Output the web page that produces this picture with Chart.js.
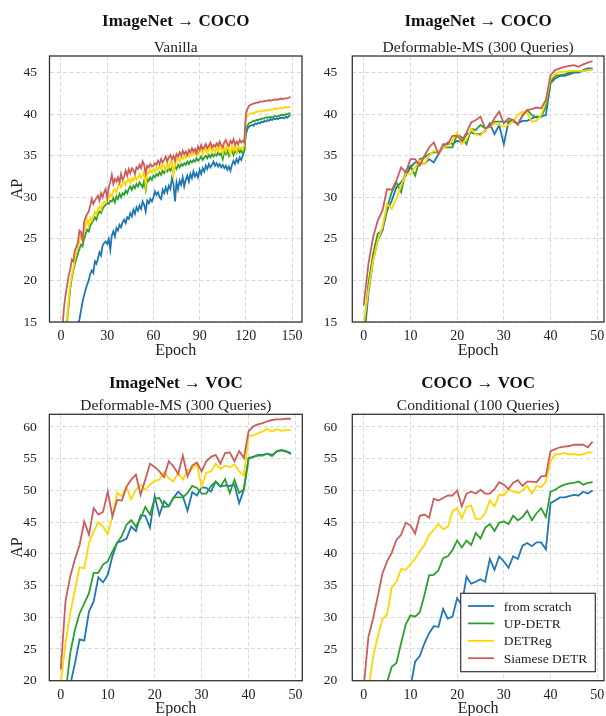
<!DOCTYPE html>
<html>
<head>
<meta charset="utf-8">
<script src="https://cdn.jsdelivr.net/npm/chart.js@4.4.0/dist/chart.umd.min.js"></script>
<style>
  body { margin: 0; background: #fff; }
  .panel { position: absolute; width: 303px; height: 358px; }
</style>
</head>
<body>
<div class="panel" style="left:0;top:0"><canvas id="c1" width="303" height="358"></canvas></div>
<div class="panel" style="left:303px;top:0"><canvas id="c2" width="303" height="358"></canvas></div>
<div class="panel" style="left:0;top:358px"><canvas id="c3" width="303" height="358"></canvas></div>
<div class="panel" style="left:303px;top:358px"><canvas id="c4" width="303" height="358"></canvas></div>
<script>
// ---- data ----
const seriesNames = ['from scratch', 'UP-DETR', 'DETReg', 'Siamese DETR'];
const xTicksLong = [0, 30, 60, 90, 120, 150];
const xTicksShort = [0, 10, 20, 30, 40, 50];
const yTicksCoco = [15, 20, 25, 30, 35, 40, 45];
const yTicksVoc = [20, 25, 30, 35, 40, 45, 50, 55, 60];

// ImageNet -> COCO, Vanilla (150 epochs)
const vanScratch = [5.0,6.0,7.0,8.0,9.0,10.0,11.0,12.0,12.8,13.5,
  14.2,14.8,15.3,16.4,17.4,18.2,18.9,19.5,20.0,20.8,
  21.2,20.9,22.3,22.0,22.6,23.4,23.0,24.2,24.5,24.7,
  24.4,25.0,23.7,25.4,25.9,25.3,26.3,26.0,26.7,26.4,
  27.0,27.3,26.9,27.6,27.4,28.1,27.7,28.5,28.0,28.8,
  28.4,29.0,28.6,29.5,29.1,28.3,29.6,29.3,29.8,29.5,
  30.0,30.7,30.3,30.6,30.0,29.8,30.9,30.5,31.2,30.6,
  31.4,31.0,32.3,31.6,29.5,31.8,31.0,32.0,31.5,32.4,
  31.3,32.1,32.6,31.9,32.8,32.3,33.1,32.5,32.9,32.4,
  33.3,32.8,33.5,33.1,33.8,33.4,34.0,33.6,33.9,34.3,
  33.8,34.1,33.7,34.0,33.6,33.9,33.5,33.8,33.3,33.7,
  33.2,33.9,34.4,34.0,34.6,34.2,34.8,34.5,35.0,35.6,
  37.6,38.2,38.5,38.6,38.7,38.6,38.9,38.8,39.0,38.9,
  39.1,39.0,39.2,39.1,39.3,39.2,39.4,39.3,39.5,39.4,
  39.5,39.4,39.6,39.5,39.6,39.5,39.7,39.6,39.8,39.9];
const vanUpDetr = [10.0,11.5,12.8,14.0,15.2,17.0,19.0,20.3,21.2,21.9,
  22.6,23.2,23.8,24.3,24.1,25.0,25.6,26.1,25.9,26.6,
  26.9,27.2,27.6,27.3,28.0,28.3,28.1,28.6,28.9,29.1,
  29.3,29.2,29.6,29.5,29.9,29.4,30.1,29.8,30.4,30.0,
  30.5,30.3,30.8,30.5,31.0,31.3,30.9,31.4,31.1,31.6,
  31.3,31.8,31.5,31.2,32.0,30.9,32.2,32.0,32.4,32.1,
  32.6,32.4,32.8,32.6,33.0,32.7,33.2,32.9,33.3,33.1,
  33.5,33.2,33.6,33.0,33.7,33.4,33.9,33.6,34.0,33.8,
  34.1,33.9,34.3,34.0,34.4,34.2,34.5,34.3,34.7,34.4,
  34.6,34.9,34.5,34.8,35.0,34.7,35.1,34.8,35.2,34.9,
  35.2,35.0,35.4,35.1,35.3,34.6,35.5,35.2,35.6,35.0,
  35.4,35.7,35.1,35.6,35.3,35.8,35.4,35.7,35.2,35.8,
  38.0,38.6,38.9,39.0,39.1,39.2,39.2,39.3,39.3,39.4,
  39.4,39.5,39.5,39.6,39.6,39.6,39.7,39.6,39.7,39.8,
  39.7,39.8,39.8,39.9,39.9,39.9,40.0,40.0,40.1,40.1];
const vanDetreg = [10.5,12.0,13.3,14.4,15.6,17.6,19.5,20.6,21.4,22.5,
  23.4,24.1,24.7,25.4,25.0,25.8,26.5,27.3,26.6,27.5,
  27.2,27.7,28.3,27.9,28.6,28.9,28.5,29.2,29.5,29.3,
  29.6,29.9,30.4,30.1,30.8,31.0,30.6,31.3,31.8,31.2,
  31.6,31.9,31.5,32.0,32.2,31.7,32.3,32.0,32.5,32.1,
  32.4,32.8,32.3,32.6,33.2,31.4,33.0,32.9,33.3,33.0,
  33.4,33.1,33.6,33.3,33.8,33.4,34.0,33.7,33.2,34.1,
  33.6,34.2,34.5,32.6,34.0,34.4,34.7,34.3,34.9,34.6,
  35.0,34.7,35.2,34.9,35.3,35.0,35.5,35.2,35.6,35.1,
  35.5,35.8,35.2,35.6,35.9,35.3,35.7,36.1,35.5,35.9,
  35.4,36.0,35.6,36.3,35.8,35.2,36.0,35.5,36.4,35.7,
  35.1,36.2,35.6,36.1,35.4,36.3,35.8,36.0,35.7,36.4,
  39.4,39.8,40.0,40.1,40.1,40.2,40.2,40.3,40.3,40.4,
  40.3,40.4,40.5,40.4,40.5,40.5,40.6,40.5,40.6,40.7,
  40.6,40.7,40.7,40.8,40.7,40.8,40.9,40.8,40.9,40.8];
const vanSiamese = [12.5,14.5,16.8,18.3,19.4,20.6,21.3,22.5,22.3,23.6,
  24.0,24.6,26.0,25.8,24.8,27.0,27.6,28.0,28.3,29.0,
  29.8,29.2,29.6,29.9,30.2,29.6,30.5,30.0,30.6,31.0,
  29.9,31.2,31.8,32.7,31.6,32.2,31.9,32.4,31.8,32.8,
  32.1,32.5,33.2,32.6,33.4,32.9,33.5,33.3,32.8,33.6,
  33.4,33.9,33.5,34.3,33.9,32.9,33.8,33.6,34.0,33.7,
  33.8,34.1,33.9,34.4,34.0,34.6,34.2,34.5,34.9,34.3,
  34.8,35.1,34.6,35.0,34.4,35.2,34.9,35.4,35.0,35.6,
  35.2,35.5,35.1,35.7,35.4,35.9,35.5,35.8,35.3,36.1,
  35.7,36.3,35.8,36.0,36.4,35.9,36.2,36.6,36.0,36.3,
  36.1,36.5,36.2,36.7,36.3,36.0,36.6,36.9,36.4,36.2,
  36.8,36.5,37.0,36.3,36.7,36.4,36.9,36.6,36.8,36.6,
  40.0,40.6,41.0,41.1,41.2,41.3,41.3,41.4,41.4,41.5,
  41.5,41.5,41.6,41.6,41.6,41.7,41.6,41.7,41.7,41.8,
  41.7,41.8,41.8,41.9,41.8,41.9,41.9,41.9,42.0,42.1];

// ImageNet -> COCO, Deformable-MS (50 epochs)
const defScratch = [12.5,18.4,22.4,24.8,26.0,28.4,29.6,31.2,31.8,32.6,
  33.6,34.2,34.2,34.0,34.6,34.2,35.2,36.0,36.6,36.4,
  36.8,36.6,37.6,37.8,37.6,37.6,38.0,38.9,37.6,38.7,
  36.4,39.1,39.1,38.9,39.2,39.2,39.5,39.7,39.7,39.9,
  43.7,44.3,44.6,44.6,44.8,45.0,45.0,45.3,45.5,45.5];
const defUpDetr = [13.5,19.6,23.2,25.6,26.0,28.8,30.6,31.8,30.6,33.2,
  33.8,32.6,34.6,34.8,35.2,35.4,35.4,36.0,36.0,36.0,
  37.6,37.2,36.4,38.2,38.1,38.7,38.3,38.5,39.1,39.1,
  39.1,39.1,39.3,38.8,39.8,40.5,39.9,39.6,39.7,40.9,
  43.9,44.6,44.7,44.8,45.0,45.1,45.2,45.2,45.3,45.4];
const defDetreg = [14.8,18.8,22.4,24.8,26.4,29.2,28.6,29.8,31.4,32.8,
  32.8,33.6,34.4,34.0,35.0,35.6,35.4,36.0,36.2,36.8,
  37.8,36.4,37.0,38.2,37.6,37.4,38.1,38.5,38.9,38.7,
  38.5,38.7,39.2,39.9,40.3,40.1,39.1,39.2,39.9,41.5,
  44.3,44.8,45.1,45.1,45.2,45.2,45.2,45.2,45.3,45.4];
const defSiamese = [17.0,22.0,25.2,27.2,28.4,31.0,30.9,32.0,33.6,33.0,
  34.6,34.6,33.8,35.0,36.0,36.6,35.2,36.4,36.4,37.4,
  37.4,36.8,37.8,39.0,39.3,39.7,38.3,38.5,39.5,40.3,
  38.9,39.5,39.3,38.7,39.9,40.5,40.6,40.8,40.7,41.7,
  44.7,45.3,45.5,45.7,45.8,45.9,45.7,46.0,46.2,46.4];

// ImageNet -> VOC, Deformable-MS (50 epochs)
const vocScratch = [13.0,15.5,19.3,22.7,26.5,26.3,30.9,32.5,36.3,35.5,
  36.7,39.6,41.8,42.0,42.4,44.3,43.6,46.1,46.0,44.1,
  49.1,46.1,48.3,47.5,48.8,49.8,49.1,46.8,49.7,49.2,
  50.5,50.4,49.8,51.4,50.6,50.8,50.7,50.9,48.0,50.1,
  55.1,55.3,55.6,55.6,55.8,55.6,56.1,56.3,56.1,55.9];
const vocUpDetr = [14.5,17.8,24.3,28.0,30.6,32.2,33.8,37.0,37.0,38.3,
  38.8,40.4,41.7,42.8,44.6,45.3,44.3,45.6,47.4,46.2,
  48.7,48.8,47.4,47.5,48.9,48.9,48.9,49.6,50.7,50.4,
  49.5,49.5,50.7,51.4,50.6,51.8,49.6,51.7,49.6,50.2,
  55.0,55.3,55.5,55.5,55.8,55.4,56.2,56.4,56.2,55.7];
const vocDetreg = [19.5,25.9,30.6,34.3,37.9,37.7,41.7,43.5,45.0,44.3,
  43.1,45.9,49.6,49.1,50.5,48.6,50.1,50.9,50.1,50.9,
  51.5,51.7,52.9,51.9,51.4,52.8,51.7,53.2,53.4,54.1,
  50.6,52.8,53.0,54.2,53.4,53.9,53.7,54.1,53.0,52.3,
  58.5,58.7,59.0,59.3,59.7,59.3,59.7,59.4,59.5,59.5];
const vocSiamese = [21.8,32.5,36.4,39.1,41.4,45.1,43.0,47.2,46.2,46.6,
  49.8,45.9,48.5,48.4,50.6,51.7,52.5,49.3,51.7,54.2,
  53.7,53.0,52.1,54.6,53.8,52.6,55.5,52.2,53.9,54.4,
  53.0,54.6,55.3,55.6,54.2,55.9,56.0,54.6,56.2,55.1,
  59.3,60.1,60.4,60.6,60.9,61.1,61.2,61.2,61.3,61.3];

// COCO -> VOC, Conditional (50 epochs)
const condScratch = [8.0,8.8,9.6,10.5,11.4,12.2,13.1,14.0,15.0,16.5,
  18.8,23.0,23.9,25.9,27.5,28.6,28.5,31.3,29.8,30.1,
  33.0,31.9,36.4,35.3,35.6,36.0,35.6,39.2,37.5,39.6,
  38.8,37.8,39.6,39.2,41.3,41.7,41.2,41.8,41.8,40.7,
  48.0,48.4,48.9,48.9,49.1,49.3,49.2,49.8,49.5,50.0];
const condUpDetr = [10.0,12.0,14.0,16.0,18.0,19.8,22.2,22.8,25.9,28.9,
  30.3,30.1,30.8,33.5,36.6,36.7,37.4,39.3,39.6,40.6,
  42.1,41.0,42.1,41.4,43.3,42.4,44.1,44.7,43.6,44.9,
  45.1,44.7,46.0,45.3,45.8,46.8,45.3,46.4,47.2,45.8,
  49.8,50.1,50.6,50.9,51.1,51.2,51.4,50.9,51.2,51.3];
const condDetreg = [15.5,18.5,23.8,26.9,29.7,30.5,34.7,35.6,37.6,37.5,
  38.4,39.2,40.4,41.4,43.0,43.8,44.7,43.9,44.2,46.7,
  47.2,45.6,47.4,47.6,45.5,45.5,46.4,48.4,47.5,49.3,
  49.2,50.2,49.8,49.6,50.0,50.7,49.5,50.7,50.5,51.4,
  54.6,55.7,55.7,55.9,55.7,55.7,55.6,55.7,56.0,56.0];
const condSiamese = [19.0,26.9,29.8,33.3,36.9,38.8,40.2,42.2,43.0,44.9,
  44.5,43.2,46.0,46.2,45.7,48.7,48.4,48.8,49.2,49.2,
  50.0,47.5,49.5,49.8,49.5,50.1,49.5,49.5,50.2,51.3,
  50.9,50.2,51.2,51.6,50.7,51.4,51.4,51.3,52.2,52.3,
  56.2,56.5,56.8,56.9,57.0,57.2,57.2,57.2,56.8,57.7];

// ---- styling ----
const SERIF = "'Liberation Serif', 'Times New Roman', serif";
const lineColors = ['#1f77b4', '#2ca02c', '#ffd700', '#cd5c5c'];
Chart.defaults.font.family = SERIF;
Chart.defaults.color = '#222';

// full box around the plot area
const framePlugin = {
  id: 'frame',
  afterDatasetsDraw(chart) {
    const { ctx, chartArea: a } = chart;
    ctx.save();
    ctx.strokeStyle = '#333';
    ctx.lineWidth = 1.3;
    ctx.strokeRect(a.left, a.top, a.right - a.left, a.bottom - a.top);
    ctx.restore();
  }
};

// boxed legend in the lower right corner
const boxLegend = {
  id: 'boxLegend',
  afterDraw(chart, args, opts) {
    if (!opts.show) return;
    const { ctx, chartArea } = chart;
    const items = chart.data.datasets.slice().reverse();
    ctx.save();
    ctx.font = '13.5px ' + SERIF;
    const textW = Math.max(...items.map(d => ctx.measureText(d.label).width));
    const rowH = 17.4, padX = 7.3, lineLen = 26, gap = 9.7;
    const w = padX + lineLen + gap + textW + 8;
    const h = 26.2 + rowH * (items.length - 1);
    const x0 = chartArea.right - 8.7 - w;
    const y0 = chartArea.bottom - 9 - h;
    ctx.fillStyle = '#fff';
    ctx.fillRect(x0, y0, w, h);
    ctx.strokeStyle = '#333';
    ctx.lineWidth = 1.2;
    ctx.strokeRect(x0, y0, w, h);
    items.forEach((d, i) => {
      const cy = y0 + 12.7 + i * rowH;
      ctx.strokeStyle = d.borderColor;
      ctx.lineWidth = d.borderWidth;
      ctx.beginPath();
      ctx.moveTo(x0 + padX, cy);
      ctx.lineTo(x0 + padX + lineLen, cy);
      ctx.stroke();
      ctx.fillStyle = '#222';
      ctx.textBaseline = 'middle';
      ctx.fillText(d.label, x0 + padX + lineLen + gap, cy + 1);
    });
    ctx.restore();
  }
};

function makePanel(id, p) {
  // siamese first so it is drawn on top
  const datasets = p.series.map((vals, i) => ({
    label: seriesNames[i],
    data: vals.map((v, e) => ({ x: e, y: v })),
    borderColor: lineColors[i],
    borderWidth: 1.8,
    pointRadius: 0,
    fill: false,
    tension: 0
  })).reverse();

  return new Chart(document.getElementById(id), {
    type: 'line',
    data: { datasets },
    plugins: [framePlugin, boxLegend],
    options: {
      responsive: false,
      animation: false,
      layout: { padding: { left: 0, right: p.padRight, top: 0, bottom: 0 } },
      plugins: {
        legend: { display: false },
        tooltip: { enabled: false },
        boxLegend: { show: !!p.legend },
        title: {
          display: true, fullSize: false, text: p.title, color: '#111',
          font: { size: 17, weight: 'bold', lineHeight: 1.2 },
          padding: { top: p.titlePad, bottom: 0 }
        },
        subtitle: {
          display: true, fullSize: false, text: p.subtitle, color: '#222',
          font: { size: 15.5, lineHeight: 1 },
          padding: { top: p.subPad, bottom: p.top - (p.titlePad + 20.4 + p.subPad + 15.5) }
        }
      },
      scales: {
        x: {
          type: 'linear', min: p.xMin, max: p.xMax,
          afterBuildTicks: s => { s.ticks = p.xTicks.map(v => ({ value: v })); },
          afterFit: s => { s.height = p.xHeight; s.paddingLeft = 0; s.paddingRight = 0; },
          grid: { color: '#cfcfcf', lineWidth: 0.8, drawTicks: false },
          border: { display: false, dash: [4, 2.5] },
          ticks: { font: { size: 14 }, padding: 6, maxRotation: 0 },
          title: {
            display: true, text: 'Epoch', color: '#222',
            font: { size: 16, lineHeight: 1 }, padding: { top: 0, bottom: -1 }
          }
        },
        y: {
          type: 'linear', min: p.yMin, max: p.yMax,
          afterBuildTicks: s => { s.ticks = p.yTicks.map(v => ({ value: v })); },
          afterFit: s => { s.width = p.left; s.paddingTop = 0; s.paddingBottom = 0; },
          grid: { color: '#cfcfcf', lineWidth: 0.8, drawTicks: false },
          border: { display: false, dash: [4, 2.5] },
          ticks: { font: { size: 13.5 }, padding: p.tickPad },
          title: {
            display: p.yTitle, text: 'AP', color: '#222',
            font: { size: 16, lineHeight: 1 }, padding: { top: 9.5, bottom: 0 }
          }
        }
      }
    }
  });
}

makePanel('c1', {
  title: 'ImageNet → COCO', subtitle: 'Vanilla',
  series: [vanScratch, vanUpDetr, vanDetreg, vanSiamese],
  xMin: -7.45, xMax: 156.45, xTicks: xTicksLong,
  yMin: 15, yMax: 47, yTicks: yTicksCoco,
  left: 49.5, padRight: 1, top: 56, titlePad: 11.5, subPad: 7.8,
  xHeight: 36, tickPad: 12.5, yTitle: true
});
makePanel('c2', {
  title: 'ImageNet → COCO', subtitle: 'Deformable-MS (300 Queries)',
  series: [defScratch, defUpDetr, defDetreg, defSiamese],
  xMin: -2.45, xMax: 51.45, xTicks: xTicksShort,
  yMin: 15, yMax: 47, yTicks: yTicksCoco,
  left: 49.3, padRight: 2, top: 56, titlePad: 11.5, subPad: 7.8,
  xHeight: 36, tickPad: 15, yTitle: false
});
makePanel('c3', {
  title: 'ImageNet → VOC', subtitle: 'Deformable-MS (300 Queries)',
  series: [vocScratch, vocUpDetr, vocDetreg, vocSiamese],
  xMin: -2.45, xMax: 51.45, xTicks: xTicksShort,
  yMin: 20, yMax: 62, yTicks: yTicksVoc,
  left: 49.3, padRight: 0.7, top: 56.3, titlePad: 15.5, subPad: 4.6,
  xHeight: 35.3, tickPad: 12.5, yTitle: true
});
makePanel('c4', {
  title: 'COCO → VOC', subtitle: 'Conditional (100 Queries)',
  series: [condScratch, condUpDetr, condDetreg, condSiamese],
  xMin: -2.45, xMax: 51.45, xTicks: xTicksShort,
  yMin: 20, yMax: 62, yTicks: yTicksVoc,
  left: 49.3, padRight: 2, top: 56.3, titlePad: 15.5, subPad: 4.6,
  xHeight: 35.3, tickPad: 15, yTitle: false, legend: true
});
</script>
</body>
</html>
